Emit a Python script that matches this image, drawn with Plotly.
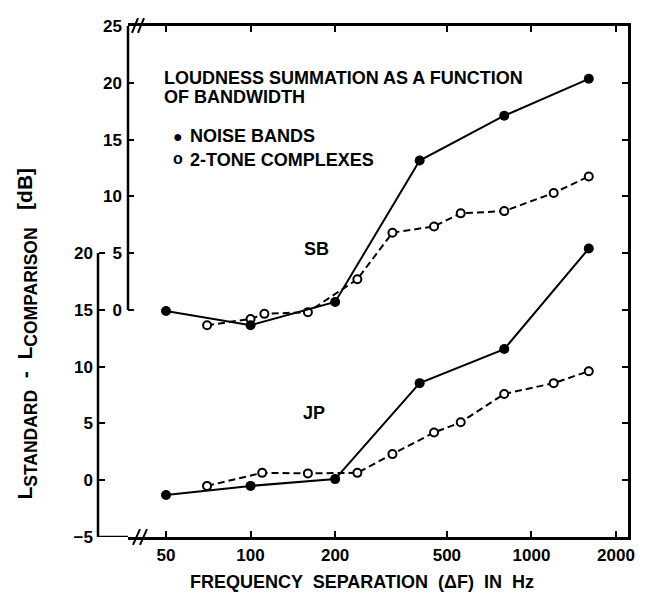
import plotly.graph_objects as go
import math

# ---------------- data ----------------
freq_noise = [50, 100, 200, 400, 800, 1600]
jp_noise = [-1.3, -0.5, 0.1, 8.55, 11.55, 20.4]
sb_noise = [-0.1, -1.35, 0.7, 13.15, 17.1, 20.35]

freq_tone_jp = [70, 110, 160, 240, 320, 450, 560, 800, 1200, 1600]
jp_tone = [-0.5, 0.65, 0.6, 0.65, 2.3, 4.2, 5.1, 7.6, 8.55, 9.6]

freq_tone_sb = [70, 100, 112, 160, 240, 320, 450, 560, 800, 1200, 1600]
sb_tone = [-1.35, -0.8, -0.35, -0.2, 2.7, 6.8, 7.35, 8.5, 8.7, 10.3, 11.75]

x_ticks = [50, 100, 200, 500, 1000, 2000]
jp_ticks = [-5, 0, 5, 10, 15, 20]
sb_ticks = [0, 5, 10, 15, 20, 25]
right_ticks = [0, 5, 10, 15, 20, 25, 30, 35]

# ---------------- layout geometry ----------------
# the page body has an 8px margin, so the figure is drawn 8px in and 8px down
OFF = 8
W, H = 640, 585
ML, MR, MT, MB = 52, 20, 9, 56
PW, PH = W - ML - MR, H - MT - MB


def px(x):
    """screen x (reference pixels) -> paper fraction"""
    return (x - OFF - ML) / PW


def py(y):
    """screen y (reference pixels) -> paper fraction"""
    return (H - MB - (y - OFF)) / PH


FONT = "Liberation Sans, Arial, sans-serif"
BLACK = "black"

fig = go.Figure()

solid = dict(color=BLACK, width=2)
dashed = dict(color=BLACK, width=2, dash="7px,4px")
filled = dict(symbol="circle", size=10, color=BLACK)
opened = dict(symbol="circle", size=8, color="white", line=dict(color=BLACK, width=2))

fig.add_trace(go.Scatter(x=freq_tone_jp, y=jp_tone, mode="lines+markers",
                         line=dashed, marker=opened, xaxis="x", yaxis="y",
                         name="2-TONE COMPLEXES (JP)", showlegend=False))
fig.add_trace(go.Scatter(x=freq_noise, y=jp_noise, mode="lines+markers",
                         line=solid, marker=filled, xaxis="x", yaxis="y",
                         name="NOISE BANDS (JP)", showlegend=False))
fig.add_trace(go.Scatter(x=freq_tone_sb, y=sb_tone, mode="lines+markers",
                         line=dashed, marker=opened, xaxis="x", yaxis="y2",
                         name="2-TONE COMPLEXES (SB)", showlegend=False))
fig.add_trace(go.Scatter(x=freq_noise, y=sb_noise, mode="lines+markers",
                         line=solid, marker=filled, xaxis="x", yaxis="y2",
                         name="NOISE BANDS (SB)", showlegend=False))
fig.add_trace(go.Scatter(x=[], y=[], xaxis="x", yaxis="y3", showlegend=False))

x_left = math.log10(50) - 38 / 280.8
x_right = math.log10(2000) + 12 / 280.8

tickfont = dict(family=FONT, size=17, color=BLACK, weight="bold")

fig.update_layout(
    width=W, height=H,
    margin=dict(l=ML, r=MR, t=MT, b=MB),
    paper_bgcolor="white", plot_bgcolor="white",
    font=dict(family=FONT, size=18, color=BLACK, weight="bold"),
    showlegend=False,
    xaxis=dict(type="log", range=[x_left, x_right], domain=[px(128), 1],
               tickvals=x_ticks, ticktext=[str(v) for v in x_ticks],
               ticks="inside", ticklen=6, tickwidth=2, tickcolor=BLACK,
               showline=True, linewidth=2.5, linecolor=BLACK, mirror="ticks",
               showgrid=False, zeroline=False, tickfont=tickfont,
               ticklabelstandoff=1, anchor="y"),
    yaxis=dict(range=[-5, 40], anchor="free", position=px(98), side="left",
               tickvals=jp_ticks, ticks="inside", ticklen=6, tickwidth=2,
               tickcolor=BLACK, showline=False, showgrid=False, zeroline=False,
               tickfont=tickfont, ticklabelstandoff=5),
    yaxis2=dict(range=[-20, 25], overlaying="y", anchor="x", side="left",
                tickvals=sb_ticks, ticks="inside", ticklen=6, tickwidth=2,
                tickcolor=BLACK, showline=False, showgrid=False, zeroline=False,
                tickfont=tickfont, ticklabelstandoff=5),
    yaxis3=dict(range=[-5, 40], overlaying="y", anchor="x", side="right",
                tickvals=right_ticks, ticks="inside", ticklen=6, tickwidth=2,
                tickcolor=BLACK, showticklabels=False, showline=True,
                linewidth=2.5, linecolor=BLACK, showgrid=False, zeroline=False),
)

# ---------------- axis decorations ----------------
shapes = []
lw = 2.5
shapes.append(dict(type="line", xref="paper", yref="y", x0=px(98), x1=px(98),
                   y0=-5, y1=20, line=dict(color=BLACK, width=lw)))
shapes.append(dict(type="line", xref="paper", yref="y", x0=px(98), x1=px(128),
                   y0=-5, y1=-5, line=dict(color=BLACK, width=lw)))
shapes.append(dict(type="line", xref="paper", yref="y2", x0=px(128), x1=px(128),
                   y0=0, y1=25, line=dict(color=BLACK, width=lw)))
for (xa, ya, xb, yb) in [(133, 545, 140, 529), (140, 545, 147, 529),
                         (132, 24, 138, 9), (138, 24, 144, 9)]:
    shapes.append(dict(type="line", xref="paper", yref="paper",
                       x0=px(xa), y0=py(ya), x1=px(xb), y1=py(yb),
                       line=dict(color=BLACK, width=2)))
fig.update_layout(shapes=shapes)

# ---------------- texts ----------------
ann = []


def text(t, x, y, xa="left", size=18, angle=0):
    ann.append(dict(text=t, x=px(x), y=py(y), xref="paper", yref="paper",
                    xanchor=xa, yanchor="middle", showarrow=False,
                    textangle=angle,
                    font=dict(family=FONT, size=size, color=BLACK, weight="bold")))


text("LOUDNESS SUMMATION AS A FUNCTION", 162, 70)
text("OF BANDWIDTH", 162, 89)
text("\u25cf", 178, 129, xa="center", size=16)
text("NOISE BANDS", 188, 129)
text("o", 178, 152, xa="center", size=16)
text("2-TONE COMPLEXES", 188, 153)
text("SB", 316, 244, xa="center")
text("JP", 314, 411, xa="center")
text("FREQUENCY  SEPARATION  (\u0394F)  IN  Hz", 362, 583, xa="center", size=18)
ann.append(dict(
    text="L<sub><span style='font-size:17.5px'>STANDARD</span></sub>  -  "
         "L<sub><span style='font-size:17.5px'>COMPARISON</span></sub>   [dB]",
    x=px(27), y=py(330), xref="paper", yref="paper", xanchor="center",
    yanchor="middle", showarrow=False, textangle=-90,
    font=dict(family=FONT, size=21, color=BLACK, weight="bold")))
fig.update_layout(annotations=ann)

fig.write_html("out.html")
